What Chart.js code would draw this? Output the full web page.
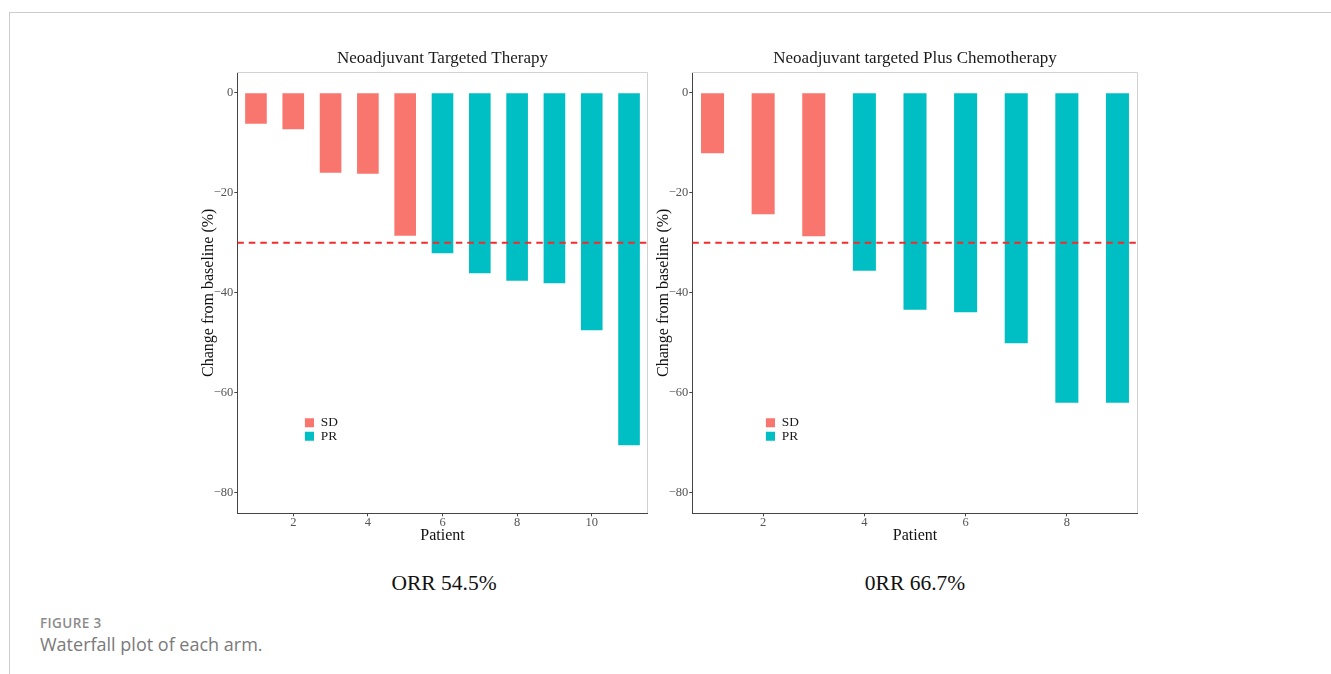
<!DOCTYPE html>
<html>
<head>
<meta charset="utf-8">
<script src="https://cdn.jsdelivr.net/npm/chart.js@4.4.0/dist/chart.umd.min.js"></script>
<style>
    body {
        margin: 0;
        width: 1331px;
        height: 674px;
        background: #ffffff;
        position: relative;
        overflow: hidden;
        font-family: "Liberation Serif", "Times New Roman", serif;
    }
    .frame-top { position: absolute; left: 9px; top: 12px; width: 1322px; height: 1px; background: #cccccc; }
    .frame-left { position: absolute; left: 9px; top: 12px; width: 1px; height: 662px; background: #cccccc; }
    .panel { position: absolute; top: 40px; height: 515px; }
    .orr {
        position: absolute;
        top: 570px;
        width: 240px;
        text-align: center;
        font-size: 21.5px;
        line-height: 26px;
        color: #111111;
    }
    .fig-num {
        position: absolute;
        left: 40px;
        top: 614px;
        font-family: "Open Sans", sans-serif;
        font-weight: 600;
        font-size: 13.5px;
        letter-spacing: 0.4px;
        color: #8c8c8c;
    }
    .fig-caption {
        position: absolute;
        left: 40px;
        top: 632px;
        font-family: "Open Sans", sans-serif;
        font-size: 18px;
        color: #7a7a7a;
    }
</style>
</head>
<body>
<div class="frame-top"></div>
<div class="frame-left"></div>

<div class="panel" style="left:185px; width:475px;"><canvas id="chart-targeted"></canvas></div>
<div class="panel" style="left:640px; width:510px;"><canvas id="chart-chemo"></canvas></div>

<div class="orr" style="left:324px;">ORR 54.5%</div>
<div class="orr" style="left:795px;">0RR 66.7%</div>

<div class="fig-num">FIGURE 3</div>
<div class="fig-caption">Waterfall plot of each arm.</div>

<script>
// Arm 1: Neoadjuvant targeted therapy
const targetedPatients = [1, 2, 3, 4, 5, 6, 7, 8, 9, 10, 11];
const targetedChange = [-6.2, -7.3, -16.0, -16.2, -28.6, -32.1, -36.1, -37.6, -38.1, -47.5, -70.5];
const targetedResponse = ['SD', 'SD', 'SD', 'SD', 'SD', 'PR', 'PR', 'PR', 'PR', 'PR', 'PR'];
const targetedXTicks = [2, 4, 6, 8, 10];

// Arm 2: Neoadjuvant targeted plus chemotherapy
const chemoPatients = [1, 2, 3, 4, 5, 6, 7, 8, 9];
const chemoChange = [-12.1, -24.3, -28.7, -35.6, -43.4, -43.9, -50.1, -62.0, -62.0];
const chemoResponse = ['SD', 'SD', 'SD', 'PR', 'PR', 'PR', 'PR', 'PR', 'PR'];
const chemoXTicks = [2, 4, 6, 8];

const responseTypes = ['SD', 'PR'];
const responseColors = ['#F8766D', '#00BFC4'];
const yTicks = [0, -20, -40, -60, -80];
const prThreshold = -30;

const serif = '"Liberation Serif", "Times New Roman", serif';

// pone la leyenda dentro del panel, donde la tiene la figura
const legendSpot = {
    id: 'legendSpot',
    afterLayout(chart, args, opts) {
        const lg = chart.legend;
        if (!lg) return;
        lg.left = opts.x;
        lg.top = opts.y;
        lg.right = opts.x + 80;
        lg.bottom = opts.y + 40;
    }
};

// borde gris claro arriba y a la derecha del panel
const panelFrame = {
    id: 'panelFrame',
    beforeDatasetsDraw(chart) {
        const a = chart.chartArea;
        const ctx = chart.ctx;
        ctx.save();
        ctx.strokeStyle = '#d2d2d2';
        ctx.lineWidth = 1;
        ctx.beginPath();
        ctx.moveTo(Math.round(a.left), Math.round(a.top) + 0.5);
        ctx.lineTo(Math.round(a.right) - 0.5, Math.round(a.top) + 0.5);
        ctx.lineTo(Math.round(a.right) - 0.5, Math.round(a.bottom));
        ctx.stroke();
        ctx.restore();
    }
};

function tickText(v) {
    return v < 0 ? '\u2212' + Math.abs(v) : String(v);
}

function crearGrafico(canvasId, title, patients, change, response, xMin, xMax, xTicks, barPct, legendX) {
    const datasets = responseTypes.map(function (r, k) {
        const pts = [];
        patients.forEach(function (p, i) {
            if (response[i] === r) pts.push({ x: p, y: change[i] });
        });
        return {
            type: 'bar',
            label: r,
            data: pts,
            backgroundColor: responseColors[k],
            borderWidth: 0,
            grouped: false,
            barPercentage: barPct,
            categoryPercentage: 1,
            order: 1
        };
    });
    datasets.push({
        type: 'line',
        label: 'threshold',
        data: [{ x: xMin, y: prThreshold }, { x: xMax, y: prThreshold }],
        borderColor: '#f52a2a',
        borderWidth: 2,
        borderDash: [6.5, 5],
        pointRadius: 0,
        order: 0
    });

    return new Chart(document.getElementById(canvasId), {
        type: 'bar',
        data: { datasets: datasets },
        plugins: [legendSpot, panelFrame],
        options: {
            responsive: true,
            maintainAspectRatio: false,
            animation: false,
            layout: { padding: { top: 0, left: 0, right: 12.3, bottom: 0 } },
            scales: {
                x: {
                    type: 'linear',
                    min: xMin,
                    max: xMax,
                    offset: false,
                    afterBuildTicks: function (scale) {
                        scale.ticks = xTicks.map(function (v) { return { value: v }; });
                    },
                    afterFit: function (scale) { scale.height = 41.7; },
                    grid: { offset: false, drawOnChartArea: false, drawTicks: true, tickLength: 3, tickColor: '#444' },
                    border: { display: true, color: '#444', width: 1 },
                    ticks: {
                        padding: 0,
                        color: '#555',
                        font: { family: serif, size: 12.5, lineHeight: 1 },
                        callback: tickText
                    },
                    title: {
                        display: true,
                        text: 'Patient',
                        color: '#111',
                        font: { family: serif, size: 16 },
                        padding: { top: 0, bottom: 9.7 }
                    }
                },
                y: {
                    min: -84.1,
                    max: 4.1,
                    afterBuildTicks: function (scale) {
                        scale.ticks = yTicks.map(function (v) { return { value: v }; });
                    },
                    afterFit: function (scale) { scale.width = 52.3; },
                    grid: { drawOnChartArea: false, drawTicks: true, tickLength: 3, tickColor: '#444' },
                    border: { display: true, color: '#444', width: 1 },
                    ticks: {
                        padding: 1,
                        color: '#555',
                        font: { family: serif, size: 12.5 },
                        callback: tickText
                    },
                    title: {
                        display: true,
                        text: 'Change from baseline (%)',
                        color: '#111',
                        font: { family: serif, size: 16 },
                        padding: { top: 14.4, bottom: 0 }
                    }
                }
            },
            plugins: {
                title: {
                    display: true,
                    text: title,
                    fullSize: false,
                    color: '#1a1a1a',
                    font: { family: serif, size: 17, weight: 'normal' },
                    padding: { top: 8, bottom: 3.9 }
                },
                legend: {
                    position: 'chartArea',
                    align: 'start',
                    labels: {
                        boxWidth: 9.3,
                        boxHeight: 9,
                        padding: 0,
                        color: '#1a1a1a',
                        font: { family: serif, size: 13.4 },
                        filter: function (item) { return item.text !== 'threshold'; }
                    }
                },
                legendSpot: { x: legendX, y: 376.1 },
                tooltip: { enabled: false }
            }
        }
    });
}

crearGrafico('chart-targeted', 'Neoadjuvant Targeted Therapy',
    targetedPatients, targetedChange, targetedResponse, 0.5, 11.5, targetedXTicks, 0.58, 119.7);

crearGrafico('chart-chemo', 'Neoadjuvant targeted Plus Chemotherapy',
    chemoPatients, chemoChange, chemoResponse, 0.6, 9.4, chemoXTicks, 0.455, 125.7);
</script>
</body>
</html>
